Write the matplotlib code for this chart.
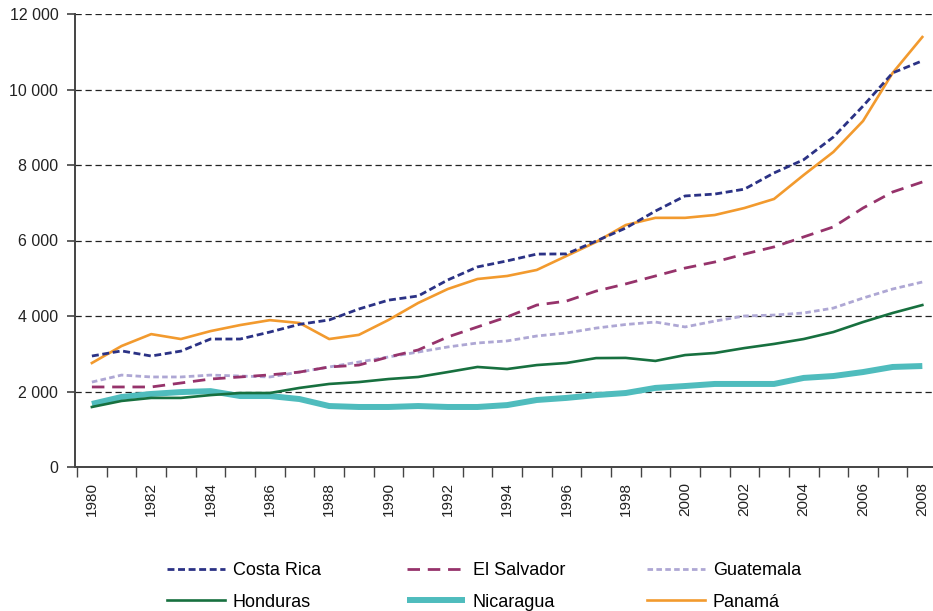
import numpy as np
import matplotlib
matplotlib.use("Agg")
import matplotlib.pyplot as plt
from matplotlib.ticker import FuncFormatter, FixedLocator

plt.rcParams['font.family'] = ['Liberation Sans', 'DejaVu Sans']

years = np.arange(1980, 2009)

costa_rica = [2940, 3075, 2940, 3070, 3390, 3390, 3575, 3780, 3895, 4185,
              4420, 4530, 4955, 5300, 5460, 5640, 5645, 5985, 6330, 6780,
              7180, 7230, 7360, 7790, 8140, 8740, 9560, 10440, 10760]
el_salvador = [2120, 2120, 2120, 2225, 2330, 2385, 2440, 2515, 2650, 2700,
               2915, 3100, 3445, 3710, 3975, 4290, 4395, 4660, 4850, 5060,
               5270, 5430, 5640, 5830, 6095, 6360, 6860, 7285, 7550]
guatemala = [2250, 2435, 2385, 2385, 2435, 2410, 2385, 2515, 2650, 2780,
             2915, 3045, 3180, 3285, 3340, 3470, 3550, 3680, 3775, 3840,
             3710, 3865, 4000, 4025, 4080, 4210, 4475, 4715, 4900]
honduras = [1590, 1750, 1830, 1830, 1905, 1960, 1960, 2095, 2200, 2250,
            2330, 2385, 2515, 2650, 2595, 2700, 2755, 2885, 2890, 2810,
            2965, 3020, 3150, 3260, 3390, 3575, 3840, 4080, 4290]
nicaragua = [1670, 1855, 1935, 1985, 2010, 1880, 1880, 1800, 1615, 1590,
             1590, 1615, 1590, 1590, 1640, 1775, 1830, 1905, 1960, 2095,
             2145, 2200, 2200, 2200, 2360, 2410, 2515, 2650, 2675]
panama = [2755, 3205, 3520, 3390, 3600, 3760, 3890, 3815, 3390, 3500,
          3895, 4345, 4715, 4980, 5060, 5220, 5590, 5960, 6410, 6600,
          6600, 6675, 6860, 7100, 7735, 8345, 9165, 10440, 11390]

W, H = 933, 611
fig = plt.figure(figsize=(W / 100, H / 100), dpi=100)
ax = fig.add_axes([75 / W, 1 - 467 / H, (W - 75) / W, (467 - 14) / H])

# thick teal line drawn first so the others sit on top
l_nic, = ax.plot(years, nicaragua, color='#4fbcbd', lw=4.3, solid_capstyle='butt')
l_hon, = ax.plot(years, honduras, color='#17703f', lw=1.9)
l_gua, = ax.plot(years, guatemala, color='#aea7d4', lw=2, dashes=(2.0, 1.2))
l_es, = ax.plot(years, el_salvador, color='#96336b', lw=2, dashes=(4.5, 2.8))
l_pan, = ax.plot(years, panama, color='#f29a2e', lw=1.9)
l_cr, = ax.plot(years, costa_rica, color='#2b3285', lw=2, dashes=(2.5, 1.3))

ax.set_xlim(1979.43, 2008.36)
ax.set_ylim(0, 12000)

ax.set_yticks(np.arange(0, 12001, 2000))
ax.yaxis.set_major_formatter(FuncFormatter(lambda v, p: f"{int(v):,}".replace(",", " ")))
ax.yaxis.grid(True, color='#222222', lw=0.9, dashes=(5, 3))
ax.set_axisbelow(True)

ax.set_xticks(np.arange(1980, 2009, 2))
ax.set_xticklabels([str(y) for y in range(1980, 2009, 2)], rotation=90)
ax.xaxis.set_minor_locator(FixedLocator(np.arange(1979.5, 2008.6, 1)))

for s in ['top', 'right']:
    ax.spines[s].set_visible(False)
for s in ['left', 'bottom']:
    ax.spines[s].set_color('#444444')
    ax.spines[s].set_linewidth(1.4)

ax.tick_params(axis='y', length=6, width=1.2, color='#444444', pad=6,
               labelsize=11.5, labelcolor='#222222')
ax.tick_params(axis='x', which='major', length=0, pad=11,
               labelsize=11, labelcolor='#222222')
ax.tick_params(axis='x', which='minor', length=7, width=1.0, color='#444444')

# legend: three columns of two rows
cols = [((l_cr, 'Costa Rica'), (l_hon, 'Honduras')),
        ((l_es, 'El Salvador'), (l_nic, 'Nicaragua')),
        ((l_gua, 'Guatemala'), (l_pan, 'Panamá'))]
col_x = [167, 407, 647]
for x, entries in zip(col_x, cols):
    fig.legend([e[0] for e in entries], [e[1] for e in entries],
               loc='center left', bbox_to_anchor=(x / W, 1 - 586.5 / H),
               frameon=False, fontsize=13, borderpad=0, borderaxespad=0,
               handlelength=3.2, handletextpad=0.45, labelspacing=0.78)

fig.savefig('out.png', dpi=100)
